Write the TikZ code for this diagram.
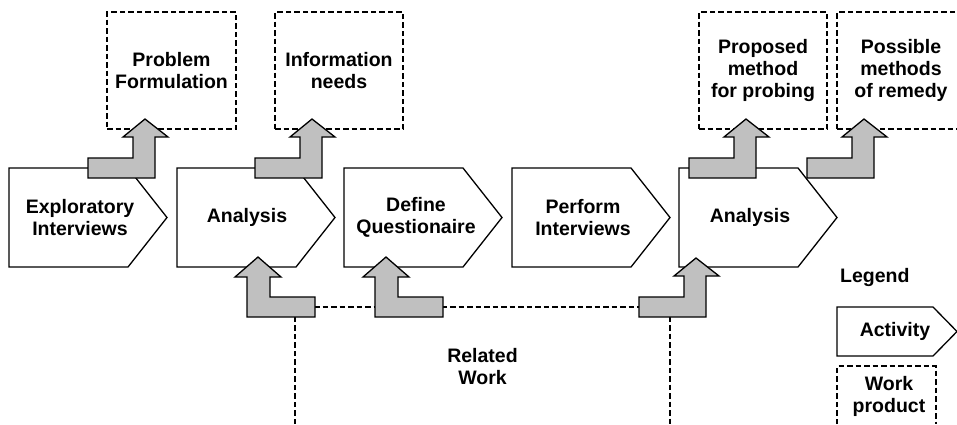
\documentclass[tikz,border=0pt]{standalone}
\usepackage{fontspec}
\setmainfont{Liberation Sans}
\definecolor{gfill}{HTML}{C0C0C0}
\begin{document}
\begin{tikzpicture}[x=1pt,y=-1pt,
  lbl/.style={font=\bfseries\fontsize{19.5}{22}\selectfont, align=center, inner sep=0pt},
  wp/.style={draw, line width=1.3pt, dash pattern=on 5.5pt off 3pt},
  wpline/.style={line width=1.3pt, dash pattern=on 5.5pt off 3pt},
  act/.style={draw, line width=1.3pt, fill=white},
  garrow/.style={draw=black, line width=1.3pt, fill=gfill},
  larrow/.pic={\draw[garrow] (0,0) -- (45,0) -- (45,-21) -- (35,-21) -- (57,-39) -- (80,-21) -- (67,-21) -- (67,20) -- (0,20) -- cycle;},
  rarrow/.pic={\draw[garrow] (0,0) -- (-45,0) -- (-45,-20) -- (-34,-20) -- (-57,-40) -- (-80,-20) -- (-68,-20) -- (-68,20) -- (0,20) -- cycle;}
]
\useasboundingbox (0,0) rectangle (957,424);
\clip (0,0) rectangle (957,424);
% work products
\node[wp, lbl, minimum width=129pt, minimum height=117pt] (pf) at (171.5,70.5) {Problem\\Formulation};
\node[wp, lbl, minimum width=128pt, minimum height=117pt] (in) at (339,70.5) {Information\\needs};
\node[wp, lbl, minimum width=128pt, minimum height=117pt] (pm) at (763,70.5) {Proposed\\method\\for probing};
\node[wp, lbl, minimum width=128pt, minimum height=117pt] (pr) at (901,70.5) {Possible\\methods\\of remedy};
% related work
\draw[wpline] (295,424) -- (295,307) -- (670,307) -- (670,424);
\node[lbl] (rw) at (482.5,367) {Related\\Work};
% activities
\foreach \l in {9,177,344,512,679}{
  \draw[act] (\l,168) -- ++(119,0) -- ++(39,49.5) -- ++(-39,49.5) -- ++(-119,0) -- cycle;
}
\node[lbl] (ei) at (80,217.5) {Exploratory\\Interviews};
\node[lbl] (a1) at (247,217.5) {Analysis};
\node[lbl] (dq) at (416,217.5) {Define\\Questionaire};
\node[lbl] (pi) at (583,217.5) {Perform\\Interviews};
\node[lbl] (a2) at (750,217.5) {Analysis};
% gray block arrows
\pic at (88,158) {larrow};
\pic at (255,158) {larrow};
\pic at (689,158) {larrow};
\pic at (807,158) {larrow};
\pic at (315,297) {rarrow};
\pic at (443,297) {rarrow};
\pic at (639,297) {larrow};
% legend
\node[lbl, anchor=west] (leg) at (840,277) {Legend};
\draw[act] (837,307) -- (933,307) -- (957,331.5) -- (933,356) -- (837,356) -- cycle;
\node[lbl] (lact) at (895,331) {Activity};
\draw[wpline] (837,424) -- (837,366) -- (936,366) -- (936,424);
\node[lbl] (lwp) at (889,396) {Work\\product};
\end{tikzpicture}
\end{document}
